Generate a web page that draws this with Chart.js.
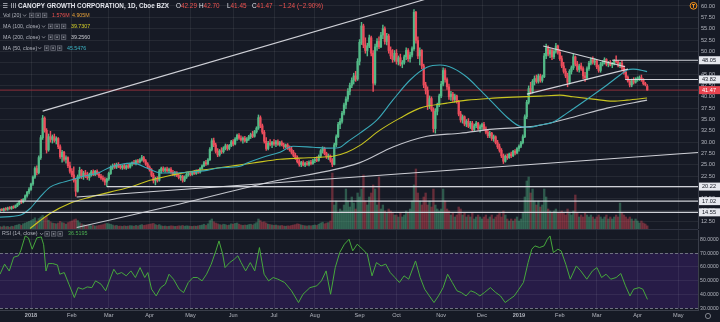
<!DOCTYPE html>
<html>
<head>
<meta charset="utf-8">
<title>CANOPY GROWTH CORPORATION, 1D</title>
<script src="https://cdn.jsdelivr.net/npm/chart.js@4.4.1/dist/chart.umd.min.js"></script>
<style>
  html, body { margin:0; padding:0; background:#161a25; }
  #wrap { position:relative; width:720px; height:322px; overflow:hidden; background:#161a25; }
  #main { position:absolute; left:0; top:0; }
  #sep { position:absolute; left:0; top:229px; width:698px; height:1px; background:#2e3240; }
  #rsi { position:absolute; left:0; top:230px; }
</style>
</head>
<body>
<div id="wrap">
  <canvas id="main" width="720" height="229"></canvas>
  <div id="sep"></div>
  <canvas id="rsi" width="720" height="92"></canvas>
</div>
<script>
// ---------------- DATA ----------------
const monthLabels = ['2018','Feb','Mar','Apr','May','Jun','Jul','Aug','Sep','Oct','Nov','Dec','2019','Feb','Mar','Apr','May'];
const monthIdx    = [16,37,56,77,98,120,141,162,185,204,227,248,267,288,307,328,349];
const priceTicks  = [12.5,15,17.5,20,22.5,25,27.5,30,32.5,35,37.5,40,42.5,45,47.5,50,52.5,55,57.5,60];
const rsiTicks    = [30,40,50,60,70,80];

// daily candles [open, high, low, close]
const candles = [
// Dec 2017
[15.0,15.3,14.7,15.1],[15.1,15.4,14.9,15.0],[15.0,15.5,14.8,15.3],[15.3,15.6,15.0,15.2],[15.2,15.7,15.0,15.5],[15.5,15.8,15.2,15.4],[15.4,15.9,15.2,15.7],[15.7,16.0,15.4,15.6],[15.6,16.2,15.5,16.0],[16.0,16.6,15.8,16.4],[16.4,17.1,16.2,16.9],[16.9,17.4,16.5,16.8],[16.8,17.6,16.6,17.4],[17.4,18.4,17.2,18.2],[18.2,19.2,17.9,19.0],[19.0,20.0,18.6,19.6],
// Jan 2018
[19.6,21.0,19.4,20.8],[20.8,22.6,20.5,22.3],[22.3,24.6,22.0,24.2],[24.2,24.8,22.8,23.3],[23.3,27.0,23.0,26.6],[26.6,31.5,26.2,31.0],[31.0,35.9,30.6,35.3],[35.3,35.6,32.2,32.6],[32.6,33.0,27.6,28.3],[28.3,31.8,28.0,31.2],[31.2,32.4,30.0,30.6],[30.6,31.6,29.8,31.2],[31.2,31.8,30.0,30.4],[30.4,31.2,29.6,30.8],[30.8,31.0,28.6,29.0],[29.0,29.4,26.4,26.8],[26.8,28.2,25.6,27.8],[27.8,28.0,25.8,26.2],[26.2,27.0,25.4,26.6],[26.6,26.8,24.4,24.8],[24.8,25.6,23.2,23.6],
// Feb 2018
[23.6,24.2,22.4,22.8],[22.8,24.6,21.2,21.6],[21.6,22.0,18.1,19.2],[19.2,22.8,19.0,22.4],[22.4,24.5,22.0,23.8],[23.8,24.0,22.0,22.5],[22.5,23.6,21.8,23.2],[23.2,23.8,22.2,22.6],[22.6,23.4,21.8,22.2],[22.2,23.2,21.6,22.9],[22.9,23.8,22.5,23.5],[23.5,23.9,22.6,22.9],[22.9,23.8,22.6,23.6],[23.6,23.9,22.8,23.0],[23.0,23.4,22.2,22.5],[22.5,22.9,21.8,22.1],[22.1,22.6,21.4,21.8],[21.8,22.2,20.6,21.2],[21.2,22.1,20.2,21.9],
// Mar 2018
[21.9,23.4,21.6,23.1],[23.1,24.8,22.9,24.5],[24.5,25.2,24.0,24.8],[24.8,25.3,24.2,24.5],[24.5,25.4,24.2,25.1],[25.1,25.5,24.4,24.7],[24.7,25.1,24.1,24.4],[24.4,25.0,24.0,24.8],[24.8,25.2,24.1,24.3],[24.3,25.0,24.0,24.8],[24.8,25.1,24.2,24.5],[24.5,25.4,24.3,25.2],[25.2,25.7,24.8,25.5],[25.5,26.0,25.1,25.3],[25.3,26.1,25.0,25.9],[25.9,26.2,25.3,25.6],[25.6,26.4,25.4,26.1],[26.1,27.1,25.8,26.6],[26.6,26.9,25.6,25.9],[25.9,26.2,24.9,25.2],[25.2,25.5,24.2,24.5],
// Apr 2018
[24.5,24.8,23.6,23.9],[23.9,24.2,22.4,22.7],[22.7,23.2,21.0,21.5],[21.5,22.3,20.6,22.0],[22.0,22.4,21.2,21.6],[21.6,24.0,21.4,23.7],[23.7,24.5,23.2,24.2],[24.2,24.6,23.5,23.8],[23.8,24.4,23.4,24.1],[24.1,24.5,23.4,23.7],[23.7,24.3,23.3,24.0],[24.0,24.4,23.2,23.4],[23.4,23.8,22.6,22.9],[22.9,23.6,22.5,23.3],[23.3,23.5,22.4,22.7],[22.7,23.0,21.9,22.2],[22.2,22.8,21.6,22.5],[22.5,22.7,21.2,21.6],[21.6,22.6,21.3,22.3],[22.3,23.2,22.0,22.9],[22.9,23.4,22.5,23.1],
// May 2018
[23.1,23.6,22.6,22.9],[22.9,23.6,22.7,23.4],[23.4,23.8,22.9,23.1],[23.1,23.9,22.9,23.7],[23.7,24.0,23.1,23.4],[23.4,24.4,23.2,24.2],[24.2,25.0,24.0,24.8],[24.8,25.8,24.6,25.5],[25.5,26.0,24.9,25.2],[25.2,26.4,25.0,26.1],[26.1,28.8,26.0,28.4],[28.4,30.8,28.1,30.3],[30.3,30.9,29.0,29.4],[29.4,29.8,27.6,28.0],[28.0,28.6,26.8,27.2],[27.2,28.4,26.9,28.1],[28.1,28.8,27.5,27.9],[27.9,29.0,27.6,28.7],[28.7,29.6,28.3,29.2],[29.2,29.5,28.2,28.6],[28.6,29.5,28.3,29.3],[29.3,30.4,29.0,30.1],
// Jun 2018
[30.1,30.6,29.2,29.6],[29.6,31.0,29.4,30.7],[30.7,31.8,30.4,31.5],[31.5,31.9,30.6,30.9],[30.9,31.4,30.2,30.5],[30.5,31.2,29.8,30.9],[30.9,31.3,30.0,30.3],[30.3,31.0,29.9,30.7],[30.7,31.5,30.4,31.2],[31.2,32.0,30.8,31.7],[31.7,32.4,31.0,31.3],[31.3,32.6,31.1,32.3],[32.3,33.4,32.0,33.1],[33.1,36.0,32.8,35.4],[35.4,35.8,33.2,33.6],[33.6,34.0,31.8,32.2],[32.2,32.6,29.8,30.2],[30.2,31.0,28.2,28.6],[28.6,30.2,28.3,29.8],[29.8,30.6,29.2,29.5],[29.5,30.2,28.8,30.0],
// Jul 2018
[30.0,30.6,29.3,29.6],[29.6,30.4,29.0,30.1],[30.1,30.5,29.3,29.5],[29.5,30.2,29.1,29.9],[29.9,30.3,29.2,29.4],[29.4,29.8,28.6,29.0],[29.0,29.6,28.7,29.4],[29.4,29.7,28.4,28.7],[28.7,29.2,28.0,28.4],[28.4,28.9,27.4,27.8],[27.8,28.2,26.8,27.1],[27.1,27.6,26.2,26.6],[26.6,27.0,25.4,25.7],[25.7,26.2,24.7,25.1],[25.1,25.8,24.6,25.5],[25.5,25.9,24.8,25.0],[25.0,25.6,24.6,25.3],[25.3,25.8,24.9,25.1],[25.1,25.9,24.8,25.6],[25.6,26.0,25.0,25.3],[25.3,26.2,25.1,25.9],
// Aug 2018
[25.9,26.6,25.5,26.2],[26.2,26.8,25.7,26.0],[26.0,27.2,25.8,26.9],[26.9,28.4,26.6,28.1],[28.1,29.0,27.6,28.6],[28.6,28.9,27.2,27.5],[27.5,27.8,26.4,26.8],[26.8,27.4,26.2,27.0],[27.0,27.2,25.6,26.0],[26.0,26.4,24.6,25.1],[25.1,29.8,25.0,29.4],[29.4,31.6,29.0,31.2],[31.2,34.4,31.0,33.9],[33.9,35.2,33.0,34.6],[34.6,36.8,34.2,36.4],[36.4,38.6,36.0,38.2],[38.2,40.0,37.4,39.5],[39.5,41.8,39.0,41.2],[41.2,43.0,40.4,42.5],[42.5,44.2,42.0,43.6],[43.6,45.2,42.8,44.6],[44.6,45.6,43.4,43.9],[43.9,48.4,43.6,47.8],
// Sep 2018
[47.8,52.6,47.0,52.0],[52.0,56.4,51.5,55.6],[55.6,56.0,50.8,51.4],[51.4,53.0,49.6,50.2],[50.2,51.8,49.0,51.2],[51.2,53.6,50.8,53.0],[53.0,53.4,49.0,49.6],[49.6,50.2,41.2,43.0],[43.0,51.6,42.6,51.0],[51.0,52.8,50.2,52.2],[52.2,53.2,50.6,51.0],[51.0,54.2,50.8,53.6],[53.6,55.8,52.8,55.0],[55.0,55.4,51.6,52.2],[52.2,54.0,51.4,53.4],[53.4,53.8,49.6,50.2],[50.2,51.0,48.4,49.0],[49.0,50.4,47.6,48.2],[48.2,50.2,47.8,49.6],
// Oct 2018
[49.6,50.4,47.2,47.8],[47.8,49.0,47.0,48.6],[48.6,49.4,46.8,47.2],[47.2,48.0,46.4,47.6],[47.6,49.2,47.2,48.8],[48.8,50.8,48.2,50.2],[50.2,50.6,47.8,48.4],[48.4,49.8,47.6,49.2],[49.2,51.0,48.8,50.6],[50.6,59.2,50.2,58.6],[58.6,58.8,51.8,52.4],[52.4,53.2,48.4,49.0],[49.0,50.8,47.0,50.2],[50.2,50.4,46.2,46.8],[46.8,47.2,42.0,42.6],[42.6,43.2,40.6,41.4],[41.4,42.2,37.2,38.0],[38.0,40.2,37.4,39.6],[39.6,40.0,36.8,37.2],[37.2,37.6,32.2,33.0],[33.0,37.4,32.0,36.8],[36.8,38.6,36.0,38.2],[38.2,40.6,37.8,40.2],
// Nov 2018
[40.2,43.4,39.8,42.8],[42.8,46.4,42.4,45.8],[45.8,46.2,43.2,43.8],[43.8,44.2,41.6,42.2],[42.2,42.8,39.4,40.0],[40.0,41.2,39.2,40.6],[40.6,41.0,39.0,39.4],[39.4,40.6,38.8,40.2],[40.2,40.4,38.6,39.0],[39.0,39.2,35.8,36.2],[36.2,36.8,34.4,34.9],[34.9,36.0,34.2,35.6],[35.6,35.8,33.6,34.0],[34.0,35.0,33.4,34.6],[34.6,35.2,33.2,33.5],[33.5,34.6,33.0,34.2],[34.2,34.6,32.4,32.8],[32.8,34.0,32.4,33.6],[33.6,34.6,33.2,34.2],[34.2,34.4,32.6,33.0],[33.0,33.8,32.2,33.4],
// Dec 2018
[33.4,34.2,32.8,33.9],[33.9,34.4,32.6,32.9],[32.9,33.4,31.8,32.2],[32.2,32.8,31.0,31.4],[31.4,32.4,31.0,32.0],[32.0,32.2,30.4,30.8],[30.8,31.6,30.2,31.2],[31.2,31.4,29.6,29.9],[29.9,30.4,28.6,29.0],[29.0,29.6,27.8,28.2],[28.2,28.6,26.6,27.0],[27.0,27.4,25.3,25.8],[25.8,27.2,25.6,26.9],[26.9,27.4,26.2,26.6],[26.6,27.6,26.4,27.4],[27.4,27.8,26.6,27.0],[27.0,28.2,26.8,28.0],[28.0,28.4,27.2,27.6],[27.6,28.8,27.4,28.6],
// Jan 2019
[28.6,29.4,28.0,29.1],[29.1,30.2,28.8,29.9],[29.9,31.6,29.6,31.2],[31.2,36.0,31.0,35.6],[35.6,39.2,35.2,38.8],[38.8,42.4,38.4,41.8],[41.8,43.2,40.6,41.2],[41.2,43.8,40.8,43.4],[43.4,44.6,42.6,44.0],[44.0,44.8,43.0,43.4],[43.4,45.0,43.0,44.6],[44.6,45.0,43.2,43.6],[43.6,44.8,43.2,44.4],[44.4,49.6,44.2,49.0],[49.0,51.6,48.4,50.8],[50.8,51.2,49.0,49.4],[49.4,50.6,48.6,50.2],[50.2,50.6,48.2,48.8],[48.8,50.4,48.4,50.0],[50.0,51.8,49.6,51.2],[51.2,51.4,49.4,49.8],
// Feb 2019
[49.8,50.4,48.0,48.4],[48.4,49.0,46.4,46.8],[46.8,47.6,45.2,45.6],[45.6,46.2,44.2,44.6],[44.6,45.2,42.2,43.2],[43.2,46.0,42.8,45.6],[45.6,46.8,45.0,46.4],[46.4,49.4,46.0,48.8],[48.8,49.0,46.8,47.2],[47.2,47.8,45.6,46.0],[46.0,47.2,45.4,46.8],[46.8,47.4,45.8,46.2],[46.2,46.6,44.0,44.6],[44.6,45.4,43.4,44.2],[44.2,46.6,43.8,46.2],[46.2,47.8,45.8,47.4],[47.4,48.6,47.0,48.2],[48.2,48.8,47.2,47.6],[47.6,48.4,47.0,47.9],
// Mar 2019
[47.9,48.2,46.2,46.6],[46.6,47.0,45.4,45.8],[45.8,47.6,45.4,47.2],[47.2,48.0,46.8,47.6],[47.6,48.6,47.2,48.2],[48.2,48.4,46.8,47.2],[47.2,47.8,46.6,47.5],[47.5,48.0,46.8,47.0],[47.0,47.6,46.4,47.3],[47.3,48.2,47.0,47.9],[47.9,49.0,47.4,47.7],[47.7,48.0,46.6,47.0],[47.0,47.6,46.4,47.4],[47.4,48.0,46.0,46.3],[46.3,46.8,45.0,45.4],[45.4,45.6,44.0,44.3],[44.3,44.6,43.2,43.5],[43.5,43.8,42.2,42.6],[42.6,43.9,42.2,43.6],[43.6,44.2,42.8,43.2],[43.2,44.2,43.0,43.9],
// Apr 2019
[43.9,44.4,43.4,44.0],[44.0,44.6,43.6,44.2],[44.2,44.8,43.4,43.8],[43.8,44.0,42.6,42.9],[42.9,43.2,42.4,42.71],[42.29,42.70,41.45,41.47]
];

// volume in millions, by month
const volDec17 = [1.2,1.0,1.5,1.1,1.3,0.9,1.4,1.2,1.8,2.0,2.4,1.8,2.6,3.0,3.4,3.8];
const volJan18 = [4.2,4.8,5.6,4.0,5.2,6.0,6.8,5.4,6.2,4.4,3.6,3.0,2.8,2.6,3.0,3.8,3.2,3.0,2.4,3.2,3.6];
const volFeb18 = [4.0,4.6,5.0,4.2,3.2,2.6,2.2,2.0,1.8,2.0,1.6,1.8,1.5,1.6,1.8,2.0,2.2,2.6,2.8];
const volMar18 = [2.6,2.4,2.0,1.6,1.8,1.4,1.5,1.3,1.6,1.4,1.5,1.7,1.6,1.4,1.8,1.5,1.9,2.2,1.8,2.0,2.2];
const volApr18 = [2.4,2.6,2.8,2.2,1.8,2.2,1.6,1.4,1.5,1.3,1.4,1.6,1.5,1.3,1.4,1.6,1.5,1.8,1.4,1.6,1.5];
const volMay18 = [1.4,1.3,1.5,1.4,1.6,1.8,2.0,2.4,1.8,2.6,4.2,5.0,3.6,3.0,2.6,2.2,2.0,2.4,2.2,1.8,2.0,2.6];
const volJun18 = [2.4,2.8,3.0,2.4,2.0,1.8,2.0,1.9,2.2,2.4,2.0,2.6,3.2,5.0,4.2,3.4,3.6,3.0,2.4,2.2,2.0];
const volJul18 = [1.8,2.0,1.7,1.6,1.8,1.5,1.4,1.6,1.5,1.8,2.0,2.2,2.6,2.4,2.0,1.8,1.6,1.5,1.7,1.6,1.8];
const volAug18 = [2.0,1.8,2.4,3.0,3.4,2.6,3.0,3.2,4.0,28.0,12.0,14.0,8.0,10.0,9.0,12.0,20.0,14.0,11.0,16.0,13.0,10.0,18.0];
const volSep18 = [16,20,27,14,12,16,18,22,20,12,26,10,12,9,8,10,9,8,7];
const volOct18 = [7,6,8,6,7,9,8,10,14,22,30,18,14,12,16,18,12,14,11,20,12,10,9];
const volNov18 = [10,20,14,10,9,7,8,6,7,11,10,7,8,6,7,6,8,5,6,7,6];
const volDec18 = [5,6,7,5,6,7,5,6,7,8,6,9,7,5,4,5,4,5,6];
const volJan19 = [4,5,8,16,24,26,18,20,14,12,14,11,12,20,16,10,9,8,9,10,8];
const volFeb19 = [8,9,8,7,10,8,7,9,17,8,6,7,6,8,7,6,7,6,5];
const volMar19 = [6,7,6,5,6,7,5,6,5,6,7,6,13,8,7,6,5,6,5,4,5];
const volApr19 = [4,3,4,3,2.5,1.576];

// moving averages: [bar index, value]
const ma50 = [[0,13.5],[10.3,13.9],[15.5,15.4],[20.6,17.9],[25.8,20.1],[30.9,21.0],[36.1,21.6],[41.2,22.3],[51.5,23.4],[56.6,24.5],[61.8,25.1],[68.5,25.4],[75.7,24.3],[80.8,23.4],[86,23.2],[96.2,23.4],[106.5,23.8],[112,24.3],[123.5,24.7],[127.1,25.4],[135.3,26.7],[144.1,27.8],[150.8,29.1],[161.1,28.9],[169.8,28.7],[175,28.9],[178.5,30.0],[185.2,32.0],[194,34.9],[202.2,39.3],[211,43.7],[219.7,46.5],[226.4,47.0],[233.1,46.3],[240.3,44.3],[247,41.5],[253.7,38.6],[260.9,35.5],[267.5,33.5],[272.7,33.3],[277.8,33.8],[284.5,34.4],[291.7,36.4],[303.5,39.9],[312.3,42.6],[319,44.8],[322.6,45.9],[325.7,46.1],[332.9,45.55]];
const ma100 = [[15.5,11.0],[25.8,14.3],[36.1,16.55],[46.4,17.9],[56.6,19.0],[68.5,20.3],[77.2,21.6],[86,22.5],[96.2,23.4],[106.5,24.0],[118.4,24.7],[130.2,25.4],[144.1,26.25],[154.4,26.5],[164.7,26.7],[171.3,26.9],[178.5,27.8],[185.2,29.3],[195.5,32.65],[205.8,35.3],[216.1,37.5],[230,38.6],[240.3,39.26],[253.7,39.7],[264,39.93],[277.8,40.15],[288.1,40.37],[294.8,40.0],[305.1,39.48],[315.4,39.04],[322.6,39.26],[332.9,39.73]];
const ma200 = [[39.5,11.2],[92.6,16.4],[138.9,21.24],[185.2,25.5],[202.2,28.96],[219.7,31.32],[236.7,31.98],[253.7,32.87],[271.2,33.37],[277.8,33.75],[294.8,35.51],[312.3,37.5],[332.9,39.26]];

// RSI(14): [bar index, value]
const rsiPoints = [[0.05,54.7],[2.4,62],[4.8,57],[7.1,67],[9.5,68],[10.7,71.6],[13.0,82.4],[14.7,81],[16.6,72.8],[19.0,81],[21.3,81.7],[22.5,76],[23.7,57],[24.9,62.4],[27.2,62.4],[29.6,61.4],[30.8,54.7],[33.1,55.9],[35.5,47.5],[38.3,37.8],[40.2,45],[42.6,43.9],[44.9,45.5],[47.3,45],[49.2,49.9],[52.0,47.5],[54.4,42.7],[56.3,49.9],[58.6,58.3],[60.3,54.7],[62.6,55.9],[65.0,53.5],[67.4,57.1],[69.7,52.3],[72.1,59.5],[74.5,52.3],[76.1,55.9],[78.0,43.9],[80.4,39],[82.7,45],[85.1,47.5],[87.0,54.7],[89.3,51.1],[92.2,43.9],[94.5,41.4],[96.9,48.7],[99.3,52.3],[101.6,52.3],[104.0,49.9],[106.3,54.7],[108.7,61.9],[111.1,71.6],[112.7,78.8],[114.6,69.2],[115.8,59.5],[118.2,63.1],[120.5,65.5],[122.4,68],[124.1,63.1],[126.4,57.1],[128.8,63.1],[131.1,57.1],[133.5,74],[135.9,54.7],[138.2,49.9],[140.6,52.3],[143.0,51.1],[146.5,48.7],[150.0,42.7],[153.6,34.2],[155.9,40.2],[159.5,45],[163.0,46.3],[165.4,49.9],[167.8,57.1],[170.1,40.2],[172.5,59.5],[174.8,70.4],[177.2,76.4],[179.6,80],[181.5,71.6],[183.8,76.4],[186.6,72.8],[189.0,69.2],[191.4,53.5],[193.7,63.1],[196.1,60.7],[198.5,62],[200.8,55.9],[203.2,52.3],[205.5,48.7],[207.9,53.5],[210.3,51.1],[213.8,64.3],[216.2,52.3],[218.5,43.9],[220.9,39],[223.3,34.2],[225.6,39],[228.0,45],[230.3,54.7],[232.7,48.7],[235.1,42.7],[237.4,41.4],[239.8,39],[242.2,42.7],[244.5,41.4],[246.9,39],[249.2,41.4],[252.3,45],[255.1,41.4],[257.5,39],[259.9,34.2],[262.2,36.6],[264.6,39],[267.0,43.9],[269.3,48.7],[271.7,63.1],[273.6,72.8],[275.2,75.2],[277.6,74],[279.9,75.2],[281.6,80],[283.0,82.4],[284.7,70.4],[287.0,72.8],[288.7,71.6],[291.1,61.9],[293.4,51.1],[296.5,60.7],[298.8,57.1],[301.9,51.1],[304.8,57.1],[307.1,59.5],[309.5,52.3],[311.8,54.7],[314.2,51.1],[317.0,52.3],[319.4,55.2],[321.8,46.3],[324.1,39],[326.0,43.9],[328.8,45],[330.7,43.9],[333.1,36.5]];

// user drawings: [[bar, price],[bar, price]]
const trendUpper   = [[22.0,36.84],[250,65.38]];
const trendLower   = [[39.5,17.93],[359.1,27.73]];
const triTop       = [[279.5,51.17],[321.6,46.61]];
const triBottom    = [[271.1,40.59],[323.1,46.1]];
const hLevels      = [[55.1,20.22],[0.05,17.02],[0.05,14.55],[314.9,48.05],[321.6,43.82]];
const lastPrice    = 41.47;
const axisBoxes    = [[48.05,'48.05'],[43.82,'43.82'],[20.22,'20.22'],[17.02,'17.02'],[14.55,'14.55']];

// ---------------- RENDER ----------------
const X_MIN = 0.05, X_MAX = 359.1;
const P_MIN = 10.88, P_MAX = 61.32;
const FONT = '"Liberation Sans", Arial, sans-serif';
const BG = '#161a25';
const GRID = 'rgba(255,255,255,0.065)';
const AXIS_TXT = '#b2b5be';
const UP = '#53b987', DN = '#eb4d5c';
const VUP = 'rgba(83,185,135,0.40)', VDN = 'rgba(235,77,92,0.38)';
const DRAW = 'rgba(222,224,230,0.92)';

const volume = [].concat(volDec17, volJan18, volFeb18, volMar18, volApr18, volMay18, volJun18, volJul18, volAug18, volSep18, volOct18, volNov18, volDec18, volJan19, volFeb19, volMar19, volApr19);
const isUp = candles.map(c => c[3] >= c[0]);
const pts = arr => arr.map(p => ({x: p[0], y: p[1]}));

function lineDs(data, color, width, order, extra) {
  return Object.assign({type:'line', data: pts(data), borderColor: color, borderWidth: width,
    pointRadius: 0, tension: 0, order: order, fill: false}, extra || {});
}

const drawingSets = [
  lineDs(trendUpper, DRAW, 1.1, 10),
  lineDs(trendLower, DRAW, 1.1, 10),
  lineDs(triTop, DRAW, 1.1, 10),
  lineDs(triBottom, DRAW, 1.1, 10),
].concat(hLevels.map(h => lineDs([[h[0], h[1]], [X_MAX, h[1]]], DRAW, 1.1, 10)));

const bgPlugin = {
  id: 'bg',
  beforeDraw(chart) {
    const c = chart.ctx; c.save(); c.fillStyle = BG; c.fillRect(0, 0, chart.width, chart.height); c.restore();
  }
};

function setFont(c, size, weight) { c.font = (weight || 'normal') + ' ' + size + 'px ' + FONT; }
function chevron(c, x, y) {
  c.beginPath(); c.moveTo(x, y - 1); c.lineTo(x + 1.6, y + 0.8); c.lineTo(x + 3.2, y - 1);
  c.strokeStyle = '#9598a1'; c.lineWidth = 0.8; c.stroke();
}
function iconBoxes(c, x, y) {
  for (let k = 0; k < 3; k++) {
    const bx = x + k * 6.5;
    c.fillStyle = '#262a35'; c.fillRect(bx, y - 2.7, 5.2, 5.2);
    c.strokeStyle = '#6a6d78'; c.lineWidth = 0.7; c.strokeRect(bx + 0.35, y - 2.35, 4.5, 4.5);
    c.fillStyle = '#8a8d96'; c.fillRect(bx + 1.8, y - 0.9, 1.6, 1.6);
  }
}

const mainOverlay = {
  id: 'mainOverlay',
  afterDraw(chart) {
    const c = chart.ctx;
    const ys = chart.scales.y;
    c.save();
    c.textBaseline = 'middle'; c.textAlign = 'left';
    // header row
    c.fillStyle = '#9598a1';
    c.fillRect(3, 3, 4.5, 1); c.fillRect(3, 5, 4.5, 1); c.fillRect(3, 7, 4.5, 1);
    c.fillRect(11, 3, 1, 5); c.fillRect(13, 3, 1, 5); c.fillRect(15, 3, 1, 5);
    setFont(c, 6.3, '600'); c.fillStyle = '#e1e3ea';
    c.fillText('CANOPY GROWTH CORPORATION, 1D, Cboe BZX', 18, 5.8);
    chevron(c, 165, 5.8);
    const ohlcTok = [['O','42.29',176],['H','42.70',199],['L','41.45',227],['C','41.47',252]];
    setFont(c, 6.4);
    ohlcTok.forEach(t => {
      c.fillStyle = '#e1e3ea'; c.fillText(t[0], t[2], 5.8);
      const w = c.measureText(t[0]).width;
      c.fillStyle = '#ef5350'; c.fillText(t[1], t[2] + w, 5.8);
    });
    c.fillStyle = '#ef5350'; c.fillText('\u22121.24 (\u22122.90%)', 279, 5.8);
    // indicator rows
    const rows = [
      {name:'Vol (20)', y:15.5, chev:23, box:29, vals:[['1.576M','#ef5350',52],['4.905M','#e8a23a',72]]},
      {name:'MA (100, close)', y:26.5, chev:42, box:48, vals:[['39.7307','#d6d22a',71]]},
      {name:'MA (200, close)', y:37.3, chev:42, box:48, vals:[['39.2560','#c9cbd1',71]]},
      {name:'MA (50, close)', y:48.2, chev:38, box:44, vals:[['45.5476','#3bb6c6',67]]},
    ];
    rows.forEach(r => {
      setFont(c, 5.3); c.fillStyle = '#b2b5be'; c.fillText(r.name, 3, r.y);
      chevron(c, r.chev, r.y);
      iconBoxes(c, r.box, r.y);
      r.vals.forEach(v => { setFont(c, 5.3); c.fillStyle = v[1]; c.fillText(v[0], v[2], r.y); });
    });
    // orange logo
    c.beginPath(); c.arc(693.5, 5.8, 3.4, 0, Math.PI * 2); c.strokeStyle = '#f7931a'; c.lineWidth = 1; c.stroke();
    c.fillStyle = '#f7931a'; c.fillRect(692, 4, 3, 0.9); c.fillRect(693, 4, 1, 3.8);
    // axis price boxes
    setFont(c, 5.6);
    axisBoxes.forEach(b => {
      const y = ys.getPixelForValue(b[0]);
      c.fillStyle = '#e6e8ee'; c.fillRect(699, y - 4, 21, 8);
      c.fillStyle = '#131722'; c.fillText(b[1], 702, y + 0.3);
    });
    const ly = ys.getPixelForValue(lastPrice);
    c.fillStyle = '#e8434f'; c.fillRect(699, ly - 4, 21, 8);
    c.fillStyle = '#ffffff'; c.fillText(lastPrice.toFixed(2), 702, ly + 0.3);
    c.restore();
  }
};

new Chart(document.getElementById('main'), {
  type: 'bar',
  data: {
    datasets: [
      {type:'bar', data: volume.map((v, i) => ({x: i, y: v})), yAxisID: 'v',
        backgroundColor: isUp.map(u => u ? VUP : VDN), barThickness: 1.7, grouped: false, order: 100},
      lineDs([[X_MIN, lastPrice], [X_MAX, lastPrice]], '#8e2f3a', 1, 90),
      {type:'bar', data: candles.map((c, i) => ({x: i, y: [c[2], c[1]]})), yAxisID: 'y',
        backgroundColor: isUp.map(u => u ? UP : DN), barThickness: 0.8, grouped: false, order: 70},
      {type:'bar', data: candles.map((c, i) => ({x: i, y: [Math.min(c[0], c[3]), Math.max(c[0], c[3])]})), yAxisID: 'y',
        backgroundColor: isUp.map(u => u ? UP : DN), barThickness: 1.6, minBarLength: 1, grouped: false, order: 69},
      lineDs(ma200, '#c3c5cc', 1.1, 62, {cubicInterpolationMode: 'monotone'}),
      lineDs(ma100, '#c9c520', 1.1, 61, {cubicInterpolationMode: 'monotone'}),
      lineDs(ma50,  '#3aa9b8', 1.1, 60, {cubicInterpolationMode: 'monotone'}),
    ].concat(drawingSets)
  },
  options: {
    responsive: false, animation: false, events: [],
    layout: {padding: 0},
    plugins: {legend: {display: false}, tooltip: {enabled: false}},
    scales: {
      x: {type: 'linear', min: X_MIN, max: X_MAX, offset: false,
        afterBuildTicks: s => { s.ticks = monthIdx.map(v => ({value: v})); },
        afterFit: s => { s.height = 0; s.paddingLeft = 0; s.paddingRight = 0; },
        ticks: {display: false}, grid: {color: GRID, drawTicks: false, offset: false}, border: {display: false}},
      y: {type: 'linear', position: 'right', min: P_MIN, max: P_MAX,
        afterBuildTicks: s => { s.ticks = priceTicks.map(v => ({value: v})); },
        afterFit: s => { s.width = 22; s.paddingTop = 0; s.paddingBottom = 0; },
        ticks: {color: AXIS_TXT, font: {size: 5.6, family: FONT}, padding: 3, callback: v => Number(v).toFixed(2)},
        grid: {color: GRID, drawTicks: false}, border: {display: true, color: '#3a3e4a'}},
      v: {type: 'linear', display: false, min: 0, max: 114.5}
    }
  },
  plugins: [bgPlugin, mainOverlay]
});

// ---------------- RSI pane ----------------
const rsiBand = {
  id: 'rsiBand',
  beforeDraw(chart) {
    const c = chart.ctx, a = chart.chartArea, ys = chart.scales.y;
    c.save();
    c.fillStyle = BG; c.fillRect(0, 0, chart.width, chart.height);
    const y70 = ys.getPixelForValue(70), y30 = ys.getPixelForValue(30);
    c.fillStyle = '#271c47'; c.fillRect(a.left, y70, a.right - a.left, y30 - y70);
    c.restore();
  },
  beforeDatasetsDraw(chart) {
    const c = chart.ctx, a = chart.chartArea, ys = chart.scales.y;
    c.save();
    c.strokeStyle = '#6f7280'; c.lineWidth = 1; c.setLineDash([3, 2]);
    [70, 30].forEach(v => {
      const y = Math.round(ys.getPixelForValue(v)) + 0.5;
      c.beginPath(); c.moveTo(a.left, y); c.lineTo(a.right, y); c.stroke();
    });
    c.restore();
  },
  afterDraw(chart) {
    const c = chart.ctx;
    c.save(); c.textBaseline = 'middle'; c.textAlign = 'left';
    setFont(c, 5.4); c.fillStyle = '#b2b5be'; c.fillText('RSI (14, close)', 2, 4);
    chevron(c, 40, 4); iconBoxes(c, 44.5, 4);
    c.fillStyle = '#4caf50'; c.fillText('36.5195', 68, 4);
    c.beginPath(); c.arc(708, 86, 2.6, 0, Math.PI * 2); c.strokeStyle = '#8a8d96'; c.lineWidth = 0.9; c.stroke();
    c.restore();
  }
};

new Chart(document.getElementById('rsi'), {
  type: 'line',
  data: {
    datasets: [
      {data: pts(rsiPoints), borderColor: '#46a83c', borderWidth: 1, pointRadius: 0, tension: 0, fill: false}
    ]
  },
  options: {
    responsive: false, animation: false, events: [],
    layout: {padding: 0},
    plugins: {legend: {display: false}, tooltip: {enabled: false}},
    scales: {
      x: {type: 'linear', min: X_MIN, max: X_MAX, offset: false,
        afterBuildTicks: s => { s.ticks = monthIdx.map(v => ({value: v})); },
        afterFit: s => { s.height = 12; s.paddingLeft = 0; s.paddingRight = 0; },
        ticks: {autoSkip: false, maxRotation: 0, minRotation: 0, padding: 2.5, color: AXIS_TXT,
          font: ctx => ({size: 5.6, family: FONT, weight: /^\d{4}$/.test(monthLabels[ctx.index] || '') ? 'bold' : 'normal'}),
          callback: (v, i) => monthLabels[i]},
        grid: {color: GRID, drawTicks: false}, border: {display: true, color: '#3a3e4a'}},
      y: {type: 'linear', position: 'right', min: 28.8, max: 86.7,
        afterBuildTicks: s => { s.ticks = rsiTicks.map(v => ({value: v})); },
        afterFit: s => { s.width = 22; s.paddingTop = 0; s.paddingBottom = 0; },
        ticks: {color: AXIS_TXT, font: {size: 5.2, family: FONT}, padding: 2, callback: v => Number(v).toFixed(4)},
        grid: {color: ctx => (ctx.tick && (ctx.tick.value === 70 || ctx.tick.value === 30)) ? 'rgba(0,0,0,0)' : GRID, drawTicks: false},
        border: {display: true, color: '#3a3e4a'}}
    }
  },
  plugins: [rsiBand]
});
</script>
</body>
</html>
